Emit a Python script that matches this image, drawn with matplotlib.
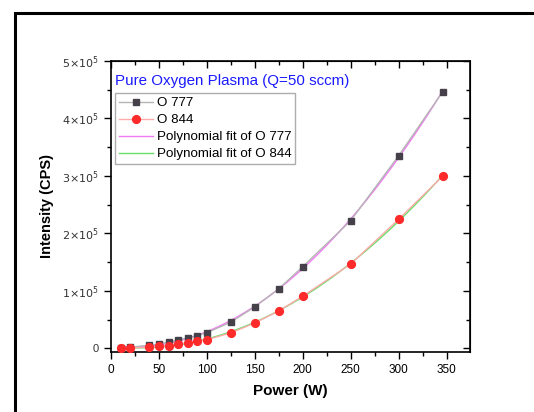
import numpy as np
import matplotlib
matplotlib.use('Agg')
from matplotlib import pyplot as plt
from matplotlib.ticker import MultipleLocator, FuncFormatter
from matplotlib.patches import Rectangle

plt.rcParams['font.family'] = ['Liberation Sans', 'DejaVu Sans']

# power settings (W) and measured line intensities (counts per second)
power = [10, 20, 40, 50, 60, 70, 80, 90, 100, 125, 150, 175, 200, 250, 300, 346]
o777 = [1000, 2000, 5000, 7500, 10500, 14500, 18000, 22000, 27000,
        45500, 72000, 103500, 142000, 222000, 335000, 446500]
o844 = [0, 500, 1700, 3500, 4600, 7500, 10000, 12000, 15000,
        26700, 44000, 65000, 90500, 146500, 224500, 299500]

title = 'Pure Oxygen Plasma (Q=50 sccm)'
labels = ['O 777', 'O 844', 'Polynomial fit of O 777', 'Polynomial fit of O 844']

fig = plt.figure(figsize=(5.34, 4.12), dpi=100)
ax = fig.add_axes([111/534, 1 - 352/412, (470 - 111)/534, (352 - 61)/412])

# outer frame, runs off the right and bottom edges
fig.patches.append(Rectangle((14.5/534, -0.1), 1.2, 1 - 13.5/412 + 0.1,
                             transform=fig.transFigure, fill=False,
                             edgecolor='black', linewidth=2.2, zorder=0))

x = np.array(power, dtype=float)
xf = np.linspace(x.min(), x.max(), 200)
fit777 = np.polyval(np.polyfit(x, o777, 3), xf)
fit844 = np.polyval(np.polyfit(x, o844, 3), xf)

ax.plot(power, o777, '-', color='#b5b5b5', lw=1.0, marker='s', ms=4.7,
        mfc='#45404a', mec='#45404a', label=labels[0], zorder=3)
ax.plot(power, o844, '-', color='#ffaaaa', lw=1.0, marker='o', ms=5.6,
        mfc='#ff2a2a', mec='#ff2a2a', label=labels[1], zorder=3)
ax.plot(xf, fit777, '-', color='#f07af0', lw=1.0, label=labels[2], zorder=2)
ax.plot(xf, fit844, '-', color='#66e066', lw=1.0, label=labels[3], zorder=2)

ax.set_xlim(0, 374.5)
ax.set_ylim(-6500, 5e5)

ax.xaxis.set_major_locator(MultipleLocator(50))
ax.xaxis.set_minor_locator(MultipleLocator(25))
ax.yaxis.set_major_locator(MultipleLocator(1e5))
ax.yaxis.set_minor_locator(MultipleLocator(5e4))

def sci(v, pos):
    if abs(v) < 1:
        return '0'
    return r'$%d{\times}10^{5}$' % round(v / 1e5)

ax.yaxis.set_major_formatter(FuncFormatter(sci))

ax.tick_params(which='both', direction='out', top=False, right=False,
               labelsize=8.5, width=1.0)
ax.tick_params(which='major', length=5)
ax.tick_params(which='minor', length=3)
ax.tick_params(axis='y', labelsize=8, labelcolor='#333333')

# inward ticks on the top and right edges
axt = ax.secondary_xaxis('top')
axt.xaxis.set_major_locator(MultipleLocator(50))
axt.xaxis.set_minor_locator(MultipleLocator(25))
axt.tick_params(which='both', direction='in', labeltop=False, width=1.0)
axt.tick_params(which='major', length=5)
axt.tick_params(which='minor', length=3)
axr = ax.secondary_yaxis('right')
axr.yaxis.set_major_locator(MultipleLocator(1e5))
axr.yaxis.set_minor_locator(MultipleLocator(5e4))
axr.tick_params(which='both', direction='in', labelright=False, width=1.0)
axr.tick_params(which='major', length=5)
axr.tick_params(which='minor', length=3)

for s in ax.spines.values():
    s.set_linewidth(1.2)

ax.set_xlabel('Power (W)', fontsize=11, fontweight='bold', labelpad=6)
ax.set_ylabel('Intensity (CPS)', fontsize=10.5, fontweight='bold', labelpad=6)

ax.text(0.012, 0.93, title, transform=ax.transAxes, color='#1a1aff',
        fontsize=10.9, va='center', ha='left')

leg = ax.legend(loc='upper left', bbox_to_anchor=(0.012, 0.89), fontsize=9.6,
                frameon=True, fancybox=False, edgecolor='#999999',
                borderpad=0.3, labelspacing=0.35, handlelength=2.5,
                handletextpad=0.3, borderaxespad=0)
leg.get_frame().set_linewidth(1.0)

fig.savefig('out.png', dpi=100)
